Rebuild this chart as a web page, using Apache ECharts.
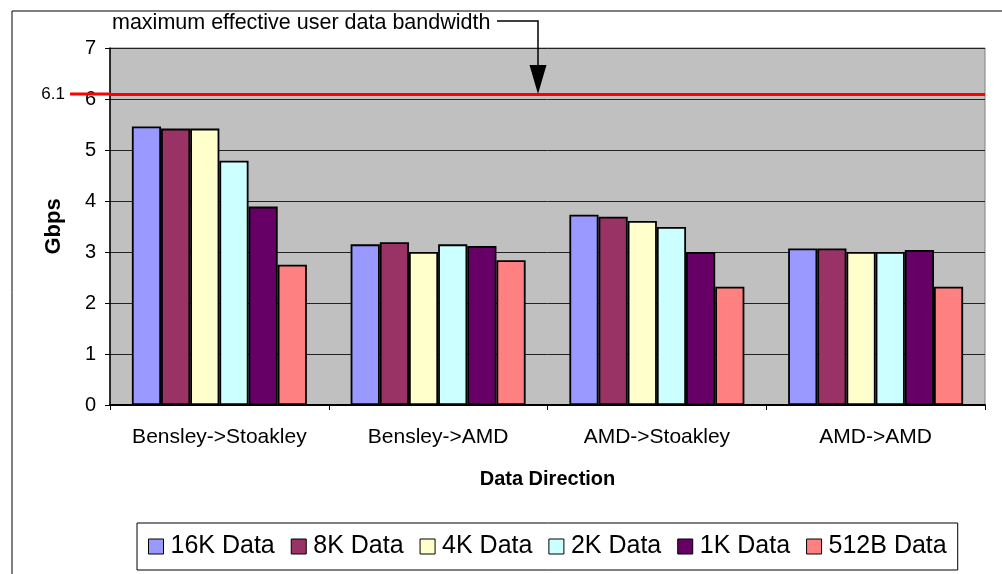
<!DOCTYPE html>
<html>
<head>
<meta charset="utf-8">
<script src="https://cdn.jsdelivr.net/npm/echarts@6/dist/echarts.min.js"></script>
<style>
html,body{margin:0;padding:0;background:#fff;overflow:hidden;}
#chart{width:1002px;height:574px;}
</style>
</head>
<body>
<div id="chart"></div>
<script>
var categories = ['Bensley->Stoakley', 'Bensley->AMD', 'AMD->Stoakley', 'AMD->AMD'];
var seriesNames = ['16K Data', '8K Data', '4K Data', '2K Data', '1K Data', '512B Data'];
var d16K  = [5.46, 3.15, 3.73, 3.07];
var d8K   = [5.42, 3.19, 3.69, 3.07];
var d4K   = [5.42, 3.00, 3.61, 3.00];
var d2K   = [4.79, 3.15, 3.49, 3.00];
var d1K   = [3.89, 3.12, 3.00, 3.04];
var d512B = [2.75, 2.84, 2.32, 2.32];
var yTicks = [0, 1, 2, 3, 4, 5, 6, 7];
var limitValue = 6.1;
var limitLabel = '6.1';
var annotationText = 'maximum effective user data bandwidth';

var seriesData = [d16K, d8K, d4K, d2K, d1K, d512B];
var colors = ['#9999FF', '#993366', '#FFFFCC', '#CCFFFF', '#660066', '#FF8080'];
var FONT = "'Liberation Sans', Arial, sans-serif";

var chart = echarts.init(document.getElementById('chart'));

var series = seriesData.map(function (d, i) {
  var s = {
    name: seriesNames[i],
    type: 'bar',
    data: d,
    barGap: '0%',
    barCategoryGap: '20%',
    itemStyle: { color: colors[i], borderColor: '#000', borderWidth: 1.8 }
  };
  if (i === 0) {
    s.markLine = {
      silent: true,
      symbol: ['none', 'none'],
      lineStyle: { color: '#FF0000', width: 3, type: 'solid' },
      label: {
        show: true, position: 'start', distance: 45,
        formatter: limitLabel, color: '#000', fontSize: 17, fontFamily: FONT
      },
      data: [{ yAxis: limitValue }]
    };
  }
  return s;
});

var option = {
  animation: false,
  backgroundColor: '#fff',
  textStyle: { fontFamily: FONT },
  grid: {
    left: 110, right: 17, top: 48, bottom: 169,
    show: true, backgroundColor: '#C0C0C0', borderColor: '#808080', borderWidth: 1
  },
  legend: {
    data: seriesNames,
    left: 137, top: 523,
    padding: [11, 11, 11, 11],
    itemGap: 16,
    itemWidth: 15, itemHeight: 15,
    borderColor: '#000', borderWidth: 1,
    icon: 'rect',
    itemStyle: { borderColor: '#000', borderWidth: 1 },
    textStyle: { fontSize: 25, color: '#000', fontFamily: FONT, padding: [0, 0, 0, 2] }
  },
  xAxis: {
    type: 'category',
    data: categories,
    name: 'Data Direction',
    nameLocation: 'middle',
    nameGap: 64,
    nameTextStyle: { fontSize: 20, fontWeight: 'bold', color: '#000', fontFamily: FONT },
    axisLine: { lineStyle: { color: '#000', width: 2 } },
    axisTick: { show: true, length: 5, alignWithLabel: false, lineStyle: { color: '#000' } },
    axisLabel: { fontSize: 21, color: '#000', margin: 22, fontFamily: FONT, interval: 0 },
    splitLine: { show: false }
  },
  yAxis: {
    type: 'value',
    min: yTicks[0], max: yTicks[yTicks.length - 1], interval: 1,
    name: 'Gbps',
    nameLocation: 'middle',
    nameGap: 45,
    nameTextStyle: { fontSize: 22, fontWeight: 'bold', color: '#000', fontFamily: FONT },
    axisLine: { show: true, lineStyle: { color: '#000', width: 1.5 } },
    axisTick: { show: true, length: 5, lineStyle: { color: '#000' } },
    axisLabel: { fontSize: 20, color: '#000', margin: 14, fontFamily: FONT },
    splitLine: { show: true, lineStyle: { color: '#222', width: 1 } }
  },
  series: series
};

chart.setOption(option);

var py = chart.convertToPixel({ yAxisIndex: 0 }, limitValue);
var axisLeftPx = 110;

chart.setOption({
  graphic: [
    {
      type: 'line', silent: true, z: -10,
      shape: { x1: 12, y1: 11, x2: 1002, y2: 11 },
      style: { stroke: '#000', lineWidth: 1 }
    },
    {
      type: 'line', silent: true, z: -10,
      shape: { x1: 12, y1: 11, x2: 12, y2: 574 },
      style: { stroke: '#000', lineWidth: 1 }
    },
    {
      type: 'line', silent: true, z: 10,
      shape: { x1: 70, y1: py, x2: axisLeftPx, y2: py },
      style: { stroke: '#FF0000', lineWidth: 3 }
    },
    {
      type: 'text', silent: true, z: 10,
      style: {
        text: annotationText, x: 112, y: 23,
        fill: '#000', font: '21.5px ' + FONT,
        textAlign: 'left', textVerticalAlign: 'middle'
      }
    },
    {
      type: 'polyline', silent: true, z: 10,
      shape: { points: [[497, 21], [538, 21], [538, py - 28]] },
      style: { stroke: '#000', lineWidth: 1.5, fill: 'none' }
    },
    {
      type: 'polygon', silent: true, z: 10,
      shape: { points: [[529.5, py - 29], [546.5, py - 29], [538, py]] },
      style: { fill: '#000' }
    }
  ]
});
</script>
</body>
</html>
